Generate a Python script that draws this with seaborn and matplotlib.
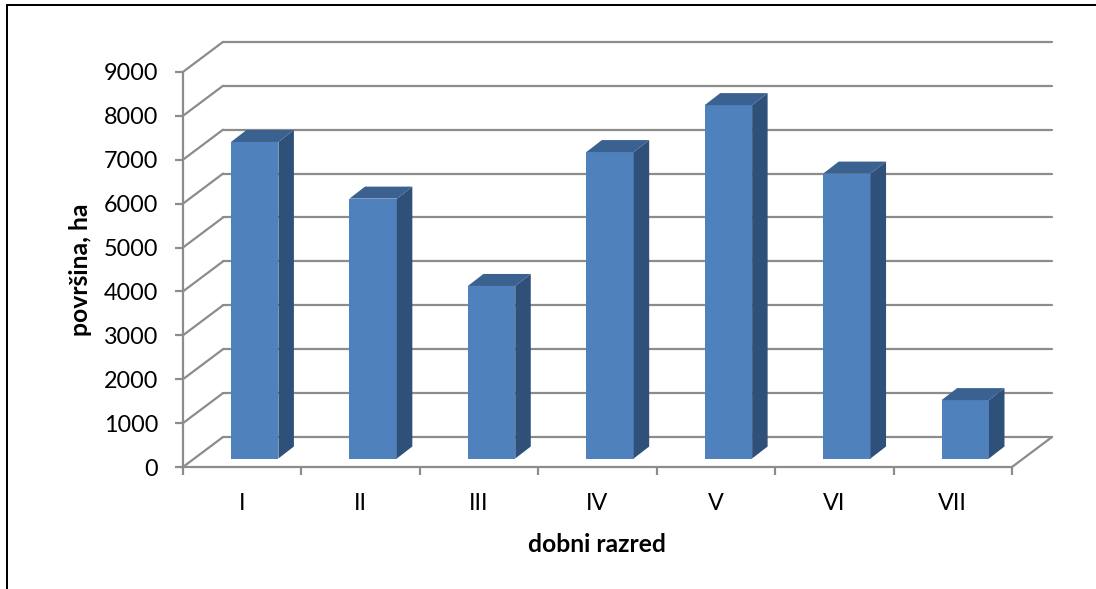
import numpy as np
import pandas as pd
import seaborn as sns
import matplotlib
matplotlib.use("Agg")
import matplotlib.pyplot as plt
from matplotlib.lines import Line2D
from matplotlib.patches import Polygon
from matplotlib.transforms import Affine2D

# Area per age class
age_classes = ["I", "II", "III", "IV", "V", "VI", "VII"]
area_ha = [7210, 5920, 3930, 6980, 8050, 6490, 1330]
y_ticks = [0, 1000, 2000, 3000, 4000, 5000, 6000, 7000, 8000, 9000]

FRONT = "#4F81BD"
SIDE = "#2F5179"
TOP = "#3A6190"
GRID = "#8C8C8C"

sns.set_theme(style="white")
plt.rcParams["font.family"] = ["Lato", "DejaVu Sans"]

W, H = 1096, 589
LW = 1.6
fig = plt.figure(figsize=(W / 100, H / 100), dpi=100)
ax = fig.add_axes([183 / W, 1 - 467 / H, 870 / W, 425 / H])

df = pd.DataFrame({"razred": age_classes, "povrsina": area_ha})
sns.barplot(data=df, x="razred", y="povrsina", color=FRONT, saturation=1,
            width=0.40, ax=ax, zorder=3)

# Axis scales: one category and one value unit span these pixel lengths
px_x = 118.43
px_y = 43.9
ax.set_xlim(-0.5, -0.5 + 870 / px_x)
ax.set_ylim(0, 425 / px_y * 1000)

# Oblique offsets of the back wall and of the bars on the floor
wall_dx, wall_dy = 40 / px_x, 30 / px_y * 1000
bar_dx, bar_dy = 12.5 / px_x, 8.5 / px_y * 1000
depth_dx, depth_dy = 15.5 / px_x, 12 / px_y * 1000

n_cat = len(age_classes)
x_end = n_cat - 0.5

# Gridlines on the wall and the side wall
for t in y_ticks:
    ax.plot([-0.5, -0.5 + wall_dx], [t, t + wall_dy], color=GRID, lw=LW,
            clip_on=False, zorder=1, solid_capstyle="round")
    ax.plot([-0.5 + wall_dx, x_end + wall_dx], [t + wall_dy, t + wall_dy],
            color=GRID, lw=LW, clip_on=False, zorder=1)
ax.plot([x_end, x_end + wall_dx], [0, wall_dy], color=GRID, lw=LW,
        clip_on=False, zorder=1)

# Shift the front faces onto the floor and add side and top faces
shift = Affine2D().translate(bar_dx, bar_dy) + ax.transData
for bar in list(ax.patches):
    bar.set_transform(shift)
    bar.set_linewidth(0)
    bar.set_clip_on(False)
    x0, x1 = bar.get_x(), bar.get_x() + bar.get_width()
    h = bar.get_height()
    side = [(x1, 0), (x1 + depth_dx, depth_dy), (x1 + depth_dx, h + depth_dy), (x1, h)]
    top = [(x0, h), (x0 + depth_dx, h + depth_dy), (x1 + depth_dx, h + depth_dy), (x1, h)]
    ax.add_patch(Polygon(side, closed=True, fc=SIDE, ec="none", transform=shift,
                         zorder=3, clip_on=False))
    ax.add_patch(Polygon(top, closed=True, fc=TOP, ec="none", transform=shift,
                         zorder=3, clip_on=False))

# Axes lines and ticks
for s in ["top", "right"]:
    ax.spines[s].set_visible(False)
for s in ["left", "bottom"]:
    ax.spines[s].set_color(GRID)
    ax.spines[s].set_linewidth(LW)
ax.spines["left"].set_bounds(0, 9000)
ax.spines["bottom"].set_bounds(-0.5, x_end)

ax.set_yticks(y_ticks)
ax.set_xticks(range(n_cat))
ax.set_xticklabels(age_classes)
ax.set_xticks(np.arange(-0.5, x_end + 0.5), minor=True)
ax.tick_params(axis="y", length=6, width=LW, color=GRID, labelsize=16.8,
               labelcolor="black", pad=12, left=True)
ax.tick_params(axis="x", which="major", length=0, labelsize=16.8,
               labelcolor="black", pad=19)
ax.tick_params(axis="x", which="minor", length=6, width=LW, color=GRID, bottom=True)

ax.set_xlabel("dobni razred", fontsize=17.8, fontweight="bold", color="black")
ax.set_ylabel("površina, ha", fontsize=17.8, fontweight="bold", color="black")
ax.xaxis.set_label_coords((597 - 183) / 870, -(544 - 467) / 425, )
ax.xaxis.label.set_va("center")
ax.yaxis.set_label_coords((81 - 183) / 870, (467 - 270) / 425)
ax.yaxis.label.set_va("center")

# Frame around the chart area
frame = dict(color="black", lw=1.45, transform=fig.transFigure)
fig.add_artist(Line2D([6.5 / W, 6.5 / W], [0, 1 - 4.5 / H], **frame))
fig.add_artist(Line2D([6.5 / W, 1], [1 - 4.5 / H, 1 - 4.5 / H], **frame))

fig.savefig("out.png", dpi=100, facecolor="white")
